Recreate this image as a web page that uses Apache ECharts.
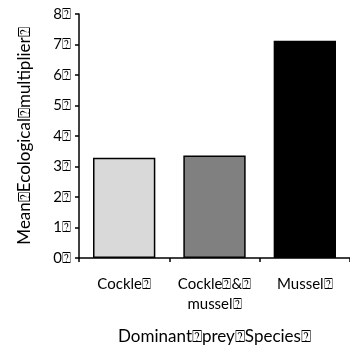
<!DOCTYPE html>
<html>
<head>
<meta charset="utf-8">
<script src="https://cdn.jsdelivr.net/npm/echarts@6/dist/echarts.min.js"></script>
<style>
  html, body { margin: 0; padding: 0; background: #fff; }
  #chart { width: 350px; height: 351px; }
</style>
</head>
<body>
<div id="chart"></div>
<script>
// Mean ecological multiplier by dominant prey species
const categories = ['Cockle\u2370', 'Cockle\u2370&\u2370\nmussel\u2370', 'Mussel\u2370'];
const multiplierValues = [3.29, 3.36, 7.12];
const barColors = ['#d9d9d9', '#808080', '#000000'];
const yTickLabels = ['0\u2370', '1\u2370', '2\u2370', '3\u2370', '4\u2370', '5\u2370', '6\u2370', '7\u2370', '8\u2370'];
const xAxisTitle = 'Dominant\u2370prey\u2370Species\u2370';
const yAxisTitle = 'Mean\u2370Ecological\u2370multiplier\u2370';

const FONT = 'Lato, "Open Sans", "DejaVu Sans", sans-serif';

const chart = echarts.init(document.getElementById('chart'), null, { renderer: 'canvas' });
chart.setOption({
  animation: false,
  backgroundColor: '#ffffff',
  grid: { left: 79, right: -7, top: 14, bottom: 93, containLabel: false },
  xAxis: {
    type: 'category',
    data: categories,
    name: xAxisTitle,
    nameLocation: 'middle',
    nameGap: 70,
    nameTextStyle: { fontFamily: FONT, fontSize: 17, color: '#000' },
    axisLine: { lineStyle: { color: '#000', width: 1.5 } },
    axisTick: { show: true, inside: false, length: 4, alignWithLabel: false, lineStyle: { color: '#000', width: 1.5 } },
    axisLabel: {
      interval: 0, hideOverlap: false,
      fontFamily: FONT, fontSize: 15, color: '#000', margin: 16, lineHeight: 20
    }
  },
  yAxis: {
    type: 'value',
    min: 0,
    max: 8,
    interval: 1,
    name: yAxisTitle,
    nameLocation: 'middle',
    nameGap: 46,
    nameTextStyle: { fontFamily: FONT, fontSize: 17, color: '#000' },
    splitLine: { show: false },
    axisLine: { show: true, lineStyle: { color: '#000', width: 1.5 } },
    axisTick: { show: true, inside: false, length: 4, lineStyle: { color: '#000', width: 1.5 } },
    axisLabel: {
      fontFamily: FONT, fontSize: 15, color: '#000', margin: 8,
      formatter: (v) => yTickLabels[Math.round(v)]
    }
  },
  series: [{
    type: 'bar',
    barCategoryGap: '31%',
    data: multiplierValues.map((v, i) => ({
      value: v,
      itemStyle: { color: barColors[i], borderColor: '#000', borderWidth: 1.5 }
    }))
  }]
});
</script>
</body>
</html>
